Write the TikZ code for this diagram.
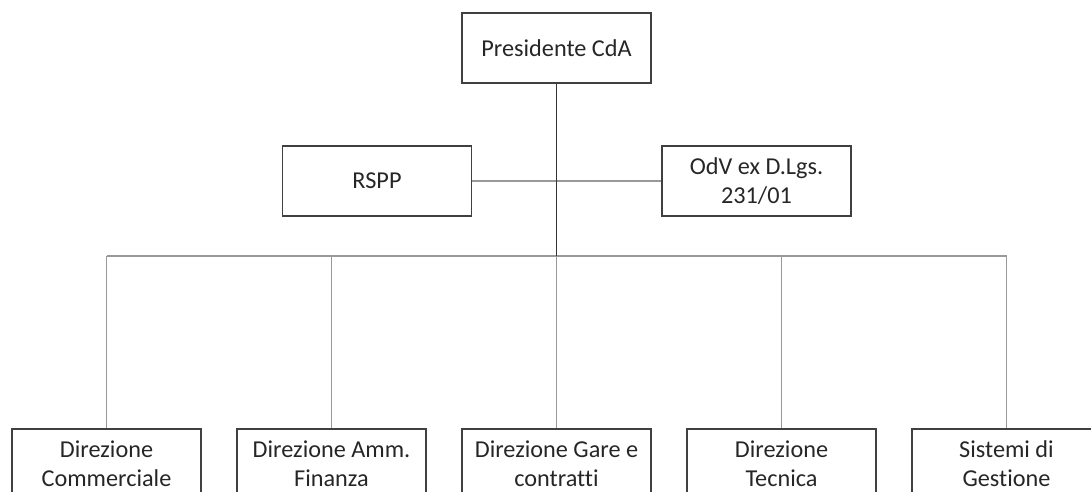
\documentclass[tikz,border=0pt]{standalone}
\usepackage{fontspec}
\setmainfont{Carlito}[Ligatures=NoCommon]
\begin{document}
\begin{tikzpicture}[x=0.02cm,y=-0.02cm,every node/.style={font=\fontsize{13.8}{16.5}\selectfont,text=black!85},
  box/.style={draw=black!75,line width=0.7pt,minimum width=3.78cm,minimum height=1.4cm,align=center,inner sep=0pt},
  link/.style={draw=black!40,line width=0.65pt},
  trunk/.style={draw=black!80,line width=0.85pt}]
\clip (0,0) rectangle (1091,492);
\node[box] (pres) at (556.5,48) {Presidente CdA};
\node[box] (rspp) at (377,181) {RSPP};
\node[box] (odv) at (756.5,181) {OdV ex D.Lgs.\\231/01};
\node[box] (comm) at (106.5,464) {Direzione\\Commerciale};
\node[box] (amm) at (331.5,464) {Direzione Amm.\\Finanza};
\node[box] (gare) at (556.5,464) {Direzione Gare e\\contratti};
\node[box] (tecn) at (781.5,464) {Direzione\\Tecnica};
\node[box] (sist) at (1006.5,464) {Sistemi di\\Gestione};
\coordinate (hub) at (556.5,256);
\draw[link] (rspp.east) -- (odv.west);
\draw[link] (comm.north |- hub) -- (sist.north |- hub);
\draw[link] (comm.north) -- (comm.north |- hub);
\draw[link] (amm.north) -- (amm.north |- hub);
\draw[link] (gare.north) -- (gare.north |- hub);
\draw[link] (tecn.north) -- (tecn.north |- hub);
\draw[link] (sist.north) -- (sist.north |- hub);
\draw[trunk] (pres.south) -- (hub);
\end{tikzpicture}
\end{document}
